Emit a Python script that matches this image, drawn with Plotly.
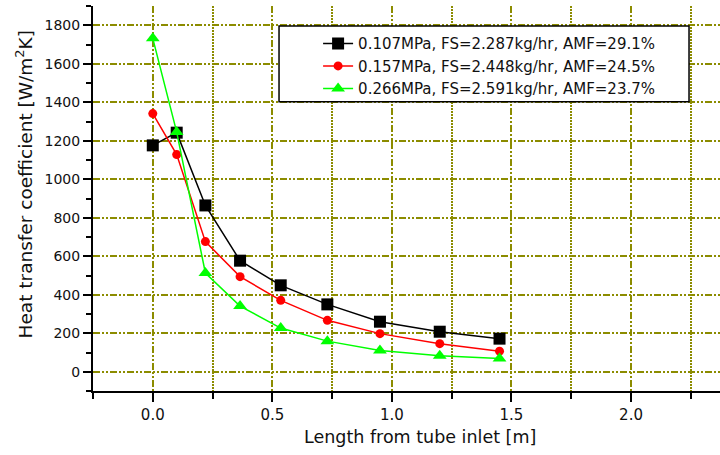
import plotly.graph_objects as go

# Distance from the tube inlet [m]
length_m = [0.0, 0.1, 0.22, 0.365, 0.535, 0.73, 0.95, 1.2, 1.45]

# Local heat transfer coefficient [W/m2K] for each operating pressure
h_107 = [1176, 1242, 864, 577, 449, 350, 260, 208, 172]
h_157 = [1341, 1128, 676, 494, 371, 267, 198, 146, 107]
h_266 = [1732, 1245, 513, 341, 227, 159, 110, 83, 69]

series_names = [
    "0.107MPa, FS=2.287kg/hr, AMF=29.1%",
    "0.157MPa, FS=2.448kg/hr, AMF=24.5%",
    "0.266MPa, FS=2.591kg/hr, AMF=23.7%",
]
series_values = [h_107, h_157, h_266]
series_colors = ["#000000", "#ff0000", "#00ff00"]
series_symbols = ["square", "circle", "triangle-up"]
series_sizes = [12, 9, 12]

x_range = [-0.25, 2.372]
y_range = [-100, 1900]

FONT = "DejaVu Sans"
GRID = "#8c8c00"
MAJOR_DASH = "7px,2px,2px,2px,2px,2px"

fig = go.Figure()
for name, vals, col, sym, sz in zip(series_names, series_values, series_colors,
                                    series_symbols, series_sizes):
    fig.add_trace(go.Scatter(
        x=length_m, y=vals, name=name, mode="lines+markers",
        line=dict(color=col, width=1.5),
        marker=dict(symbol=sym, size=sz, color=col, line=dict(width=0)),
    ))

fig.update_layout(
    width=720, height=455,
    margin=dict(l=93, r=0, t=6, b=64),
    paper_bgcolor="white", plot_bgcolor="white",
    font=dict(family=FONT, size=14, color="#111111"),
    showlegend=True,
    legend=dict(
        x=0.359, y=0.945, xanchor="left", yanchor="top",
        bgcolor="rgba(0,0,0,0)", borderwidth=0,
        font=dict(family=FONT, size=15, color="#111111"),
        tracegroupgap=0,
    ),
    xaxis=dict(
        range=x_range, tick0=0, dtick=0.5, tickformat=".1f",
        ticks="outside", ticklen=9, tickwidth=2, tickcolor="black",
        showline=True, linewidth=2, linecolor="black",
        showgrid=True, gridcolor=GRID, gridwidth=1.5, griddash=MAJOR_DASH,
        zeroline=False,
        tickfont=dict(family=FONT, size=15),
        minor=dict(dtick=0.25, tick0=0, ticks="outside", ticklen=6,
                   tickwidth=2, tickcolor="black",
                   showgrid=True, gridcolor=GRID, gridwidth=1.5,
                   griddash="2px,1px"),
    ),
    yaxis=dict(
        range=y_range, tick0=0, dtick=200,
        ticks="outside", ticklen=8, tickwidth=2, tickcolor="black",
        showline=True, linewidth=2, linecolor="black",
        showgrid=True, gridcolor=GRID, gridwidth=1.5, griddash=MAJOR_DASH,
        zeroline=False,
        tickfont=dict(family=FONT, size=14),
        minor=dict(dtick=100, tick0=0, ticks="outside", ticklen=5,
                   tickwidth=2, tickcolor="black", showgrid=False),
    ),
    xaxis2=dict(
        overlaying="x", side="top", anchor="y", range=x_range,
        tick0=0, dtick=0.25, ticks="inside", ticklen=8, tickwidth=2,
        tickcolor="black", showticklabels=False,
        showline=True, linewidth=2, linecolor="black",
        showgrid=False, zeroline=False,
    ),
    yaxis2=dict(
        overlaying="y", side="right", anchor="x", range=y_range,
        tick0=0, dtick=200, ticks="inside", ticklen=6, tickwidth=2,
        tickcolor="black", showticklabels=False,
        showline=False, showgrid=False, zeroline=False,
    ),
)

# Legend frame
fig.add_shape(type="rect", xref="paper", yref="paper",
              x0=0.2967, x1=0.9506, y0=0.7514, y1=0.948,
              line=dict(color="black", width=1.5), fillcolor="white",
              layer="above")

# Axis titles
fig.add_annotation(text="Heat transfer coefficient [W/m<sup>2</sup>K]",
                   xref="paper", yref="paper", x=0, y=0.5364,
                   xshift=-68, xanchor="center", yanchor="middle",
                   textangle=-90, showarrow=False,
                   font=dict(family=FONT, size=18.5, color="#111111"))
fig.add_annotation(text="Length from tube inlet [m]",
                   xref="paper", yref="paper", x=0.5215, y=-0.1195,
                   xanchor="center", yanchor="middle", showarrow=False,
                   font=dict(family=FONT, size=17.5, color="#111111"))

fig.write_html("out.html")
